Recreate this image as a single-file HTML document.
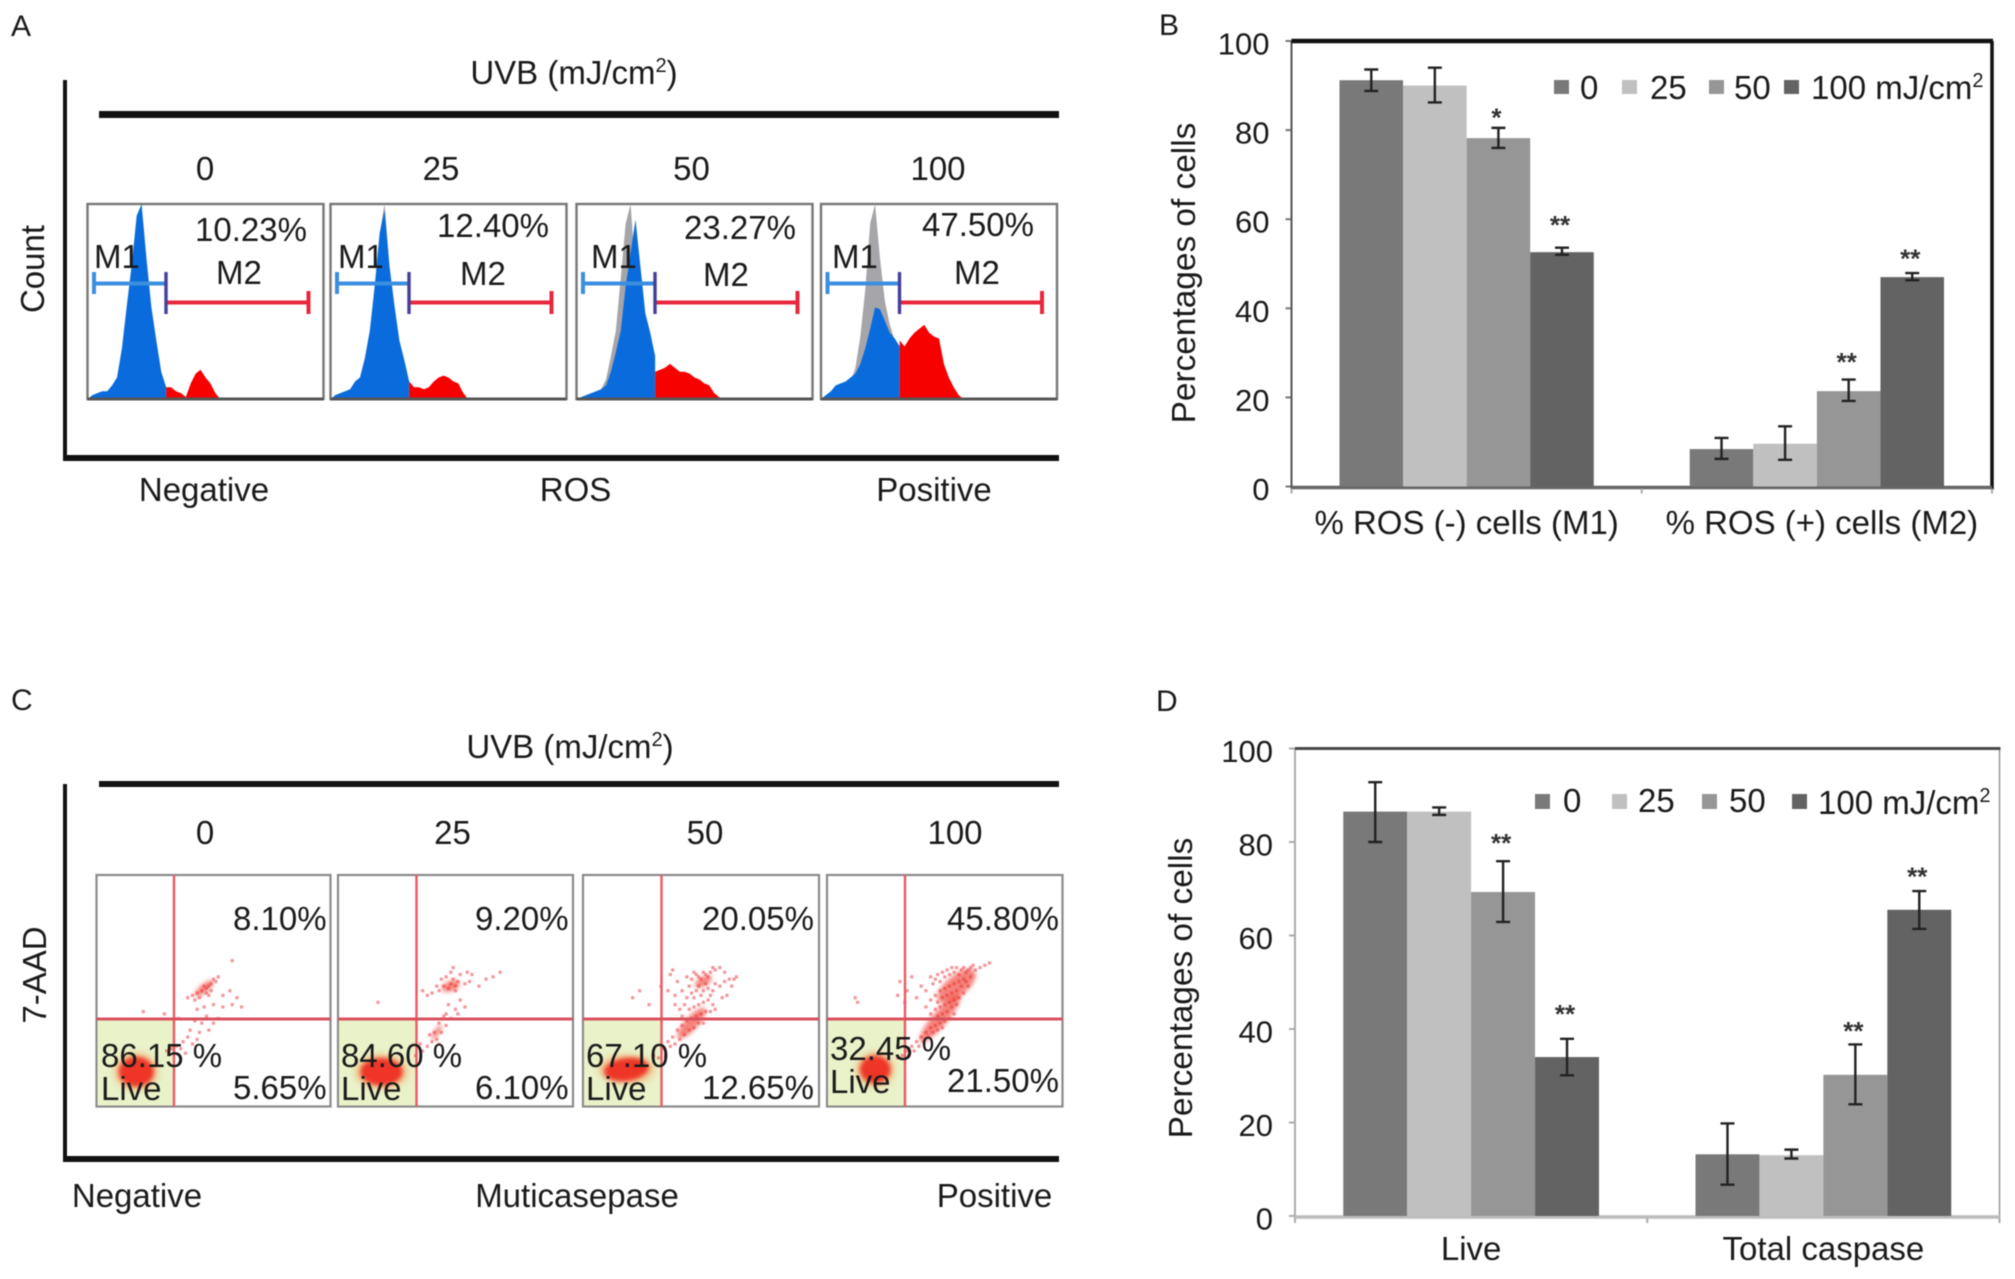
<!DOCTYPE html>
<html lang="en">
<head>
<meta charset="utf-8">
<title>UVB dose response: ROS and multicaspase flow cytometry</title>
<style>
html,body{margin:0;padding:0;background:#fff;width:2015px;height:1279px;overflow:hidden}
svg{display:block;filter:blur(0.6px)}
text{font-family:"Liberation Sans",Arial,sans-serif;font-size:33px;fill:#1a1a1a}
.mid{text-anchor:middle}
.lab{font-size:30px}
</style>
</head>
<body>
<svg id="figure" xmlns="http://www.w3.org/2000/svg" width="2015" height="1279" viewBox="0 0 2015 1279">
  <defs>
    <filter id="soft" x="-50%" y="-50%" width="200%" height="200%"><feGaussianBlur stdDeviation="2"/></filter>
    <filter id="softer" x="-50%" y="-50%" width="200%" height="200%"><feGaussianBlur stdDeviation="3.5"/></filter>
  </defs>
  <rect width="2015" height="1279" fill="#fff"/>

  <!-- Panel A -->
  <g id="panel-a">
    <text x="11" y="36" class="lab">A</text>
    <text x="574" y="84" class="mid">UVB (mJ/cm<tspan font-size="20" dy="-12">2</tspan><tspan dy="12">)</tspan></text>
    <rect x="99" y="111" width="960" height="7" fill="#111"/>
    <rect x="63" y="80" width="4" height="381" fill="#111"/>
    <rect x="63" y="455" width="996" height="6" fill="#111"/>
    <text transform="translate(44,269) rotate(-90)" class="mid">Count</text>
    <text x="205" y="180" class="mid">0</text>
    <text x="441" y="180" class="mid">25</text>
    <text x="691.5" y="180" class="mid">50</text>
    <text x="938" y="180" class="mid">100</text>
    <g id="hist-layer"></g>
    <text x="195" y="241">10.23%</text>
    <text x="437" y="237">12.40%</text>
    <text x="684" y="239">23.27%</text>
    <text x="922" y="236">47.50%</text>
    <text x="94" y="268">M1</text>
    <text x="216" y="284">M2</text>
    <text x="338" y="268">M1</text>
    <text x="460" y="285">M2</text>
    <text x="591" y="268">M1</text>
    <text x="703" y="286">M2</text>
    <text x="832" y="268">M1</text>
    <text x="954" y="284">M2</text>
    <text x="204" y="501" class="mid">Negative</text>
    <text x="575.5" y="501" class="mid">ROS</text>
    <text x="934" y="501" class="mid">Positive</text>
  </g>

  <!-- Panel C -->
  <g id="panel-c">
    <text x="11" y="710" class="lab">C</text>
    <text x="570" y="758" class="mid">UVB (mJ/cm<tspan font-size="20" dy="-12">2</tspan><tspan dy="12">)</tspan></text>
    <rect x="99" y="781" width="960" height="6" fill="#111"/>
    <rect x="63" y="784" width="4" height="377" fill="#111"/>
    <rect x="63" y="1156" width="996" height="6" fill="#111"/>
    <text transform="translate(46,975) rotate(-90)" class="mid">7-AAD</text>
    <text x="205" y="844" class="mid">0</text>
    <text x="452.5" y="844" class="mid">25</text>
    <text x="705" y="844" class="mid">50</text>
    <text x="955" y="844" class="mid">100</text>
    <g id="scatter-layer"></g>
    <text x="233" y="930">8.10%</text>
    <text x="233" y="1099">5.65%</text>
    <text x="101" y="1067">86.15 %</text>
    <text x="101" y="1100">Live</text>
    <text x="475" y="930">9.20%</text>
    <text x="475" y="1099">6.10%</text>
    <text x="341" y="1067">84.60 %</text>
    <text x="341" y="1100">Live</text>
    <text x="702" y="930">20.05%</text>
    <text x="702" y="1099">12.65%</text>
    <text x="586" y="1067">67.10 %</text>
    <text x="586" y="1100">Live</text>
    <text x="947" y="930">45.80%</text>
    <text x="947" y="1092">21.50%</text>
    <text x="830" y="1060">32.45 %</text>
    <text x="830" y="1093">Live</text>
    <text x="137" y="1207" class="mid">Negative</text>
    <text x="577" y="1207" class="mid">Muticasepase</text>
    <text x="994.5" y="1207" class="mid">Positive</text>
  </g>

  <!-- Panel B -->
  <g id="panel-b">
    <text x="1159" y="35" class="lab">B</text>
    <text transform="translate(1195,273) rotate(-90)" class="mid" style="font-size:33.4px">Percentages of cells</text>
    <g id="chart-b"></g>
    <g>
      <g><rect x="1554" y="80" width="15" height="14" fill="#797979"/><text x="1580" y="99">0</text></g>
      <g><rect x="1622" y="80" width="15" height="14" fill="#c0c0c0"/><text x="1650" y="99">25</text></g>
      <g><rect x="1709" y="80" width="15" height="14" fill="#969696"/><text x="1734" y="99">50</text></g>
      <g><rect x="1784" y="80" width="15" height="14" fill="#636363"/><text x="1811" y="99">100 mJ/cm<tspan font-size="20" dy="-12">2</tspan></text></g>
    </g>
  </g>

  <!-- Panel D -->
  <g id="panel-d">
    <text x="1156" y="711" class="lab">D</text>
    <text transform="translate(1192,988) rotate(-90)" class="mid" style="font-size:33.4px">Percentages of cells</text>
    <g id="chart-d"></g>
    <g>
      <g><rect x="1535" y="794" width="15" height="15" fill="#797979"/><text x="1563" y="812">0</text></g>
      <g><rect x="1612" y="794" width="15" height="15" fill="#c0c0c0"/><text x="1638" y="812">25</text></g>
      <g><rect x="1702" y="794" width="15" height="15" fill="#969696"/><text x="1729" y="812">50</text></g>
      <g><rect x="1792" y="794" width="15" height="15" fill="#636363"/><text x="1818" y="814">100 mJ/cm<tspan font-size="20" dy="-12">2</tspan></text></g>
    </g>
  </g>
</svg>

<script>
/* ---------- Panel B data ---------- */
const yTicks = [0, 20, 40, 60, 80, 100];
const bCategories = ['% ROS (-) cells (M1)', '% ROS (+) cells (M2)'];
const bM1Values = [91.2, 90, 78.2, 52.6];
const bM1ErrUp = [2.4, 4, 2.3, 1];
const bM1ErrDown = [2.4, 3.8, 2.2, 0.6];
const bM1Stars = ['', '', '*', '**'];
const bM1StarGap = [0, 0, 3, 5.8];
const bM2Values = [8.4, 9.6, 21.4, 47];
const bM2ErrUp = [2.5, 3.9, 2.6, 0.9];
const bM2ErrDown = [2.2, 3.6, 2.2, 0.7];
const bM2Stars = ['', '', '**', '**'];
const bM2StarGap = [0, 0, 4.6, 3.9];

/* ---------- Panel D data ---------- */
const dCategories = ['Live', 'Total caspase'];
const dLiveValues = [86.5, 86.5, 69.3, 34];
const dLiveErrUp = [6.3, 0.9, 6.6, 3.9];
const dLiveErrDown = [6.5, 0.7, 6.4, 3.9];
const dLiveStars = ['', '', '**', '**'];
const dLiveStarGap = [0, 0, 4.5, 6];
const dCaspValues = [13.2, 13, 30.2, 65.5];
const dCaspErrUp = [6.6, 1.2, 6.5, 4];
const dCaspErrDown = [6.5, 0.7, 6.3, 4.1];
const dCaspStars = ['', '', '**', '**'];
const dCaspStarGap = [0, 0, 3.5, 3.8];

const barColors = ['#797979', '#c0c0c0', '#969696', '#636363'];

/* ---------- Panel A histogram counts (percent of panel height, per bin of 48) ---------- */
const histBlue0 = [0,2,3,4,4,7,11,26,48,69,94,100,72,47,30,14,6];
const histRed0 = [6,6,4,3,1,8,13,15,11,8,3,0];
const histGray25 = [0,2,3,4,5,9,11,21,35,58,85,100,68,48,30,20,9];
const histBlue25 = [0,2,3,4,5,9,11,21,35,58,85,97,68,48,30,20,9];
const histRed25 = [9,6,6,5,6,9,11,12,11,9,8,3,0];
const histGray50 = [0,1,2,3,3,5,10,22,35,62,90,100,65,45,30,20,10];
const histBlue50 = [0,1,2,3,4,5,7,14,24,35,58,75,92,68,44,34,22];
const histRed50 = [14,15,16,18,16,14,14,13,11,10,8,7,3,1,0];
const histGray100 = [0,1,2,4,6,7,9,16,32,56,90,100,72,50,38,30,27];
const histBlue100 = [0,2,4,7,8,9,11,13,18,26,36,47,46,40,34,31,27];
const histRed100 = [30,27,31,34,36,38,34,32,31,18,11,6,2,0];
const histDoses = ['0', '25', '50', '100'];

/* ---------- Panel C scatter events (percent of each logarithmic axis) ---------- */
const scatter0 = [[41,48],[43,49],[45,50],[47,51],[48,52],[49,53],[50,55],[49,50],[47,49],[44,47],[51,54],[52,56],[46,52],[48,48],[42,46],[39,47],[54,48],[57,50],[60,47],[62,43],[58,44],[54,43],[50,44],[46,43],[43,42],[47,39],[52,38],[50,36],[45,36],[42,37],[40,33],[44,32],[48,33],[43,29],[41,27],[39,30],[37,28],[36,25],[38,23],[34,26],[32,25],[30,24],[58,63],[29,40],[20,41],[35,38]];
const scatter25 = [[43,50],[45,52],[47,51],[48,53],[49,55],[50,52],[51,54],[46,56],[44,55],[52,57],[55,58],[57,57],[54,53],[50,50],[42,52],[40,49],[38,48],[36,50],[48,58],[49,60],[56,54],[60,52],[63,55],[66,56],[69,58],[17,45],[52,46],[50,42],[54,43],[47,44],[45,39],[43,36],[46,35],[44,32],[41,32],[42,29],[40,28],[38,26],[36,24],[33,22],[35,27],[39,31],[43,27],[48,38],[51,40],[46,40]];
const scatter50 = [[37,57],[38,59],[40,54],[42,50],[44,56],[45,52],[46,55],[47,58],[48,57],[49,56],[50,55],[51,58],[52,57],[53,56],[54,58],[55,60],[56,59],[58,60],[60,58],[62,55],[64,55],[65,56],[63,52],[60,54],[58,52],[56,53],[55,50],[53,51],[52,53],[51,50],[50,48],[49,52],[48,50],[47,47],[46,49],[44,47],[43,44],[41,42],[39,44],[42,39],[45,42],[47,43],[49,44],[51,45],[53,46],[55,44],[56,42],[54,41],[52,41],[50,40],[48,39],[46,38],[44,37],[42,35],[40,33],[38,30],[36,28],[34,25],[37,26],[39,27],[41,29],[43,31],[45,33],[47,34],[49,36],[51,36],[35,22],[32,21],[30,22],[24,50],[21,47],[33,52],[36,50],[28,44],[39,48],[59,47],[61,48],[54,48]];
const scatter100 = [[40,52],[42,50],[44,56],[45,53],[46,55],[47,57],[48,54],[49,58],[50,56],[51,59],[52,57],[53,60],[54,58],[55,60],[56,57],[57,59],[58,60],[59,58],[60,59],[61,60],[62,61],[63,59],[65,60],[67,61],[69,62],[58,55],[56,54],[54,53],[52,52],[50,51],[48,50],[46,48],[44,46],[47,45],[49,47],[51,48],[53,49],[55,50],[57,52],[59,54],[61,56],[60,52],[58,49],[56,47],[54,46],[52,45],[50,44],[48,43],[46,42],[47,39],[49,40],[51,41],[53,43],[55,44],[50,37],[48,36],[46,35],[44,34],[42,32],[40,30],[38,28],[36,26],[37,24],[39,26],[41,28],[43,30],[45,32],[47,33],[49,34],[34,24],[32,22],[30,21],[33,45],[30,48],[34,50],[13,45],[12,47],[31,54],[36,56],[38,47],[42,43],[44,40],[52,38],[54,40]];
const scatterBlobs0 = [[17, 15, 7.5, 6.5, 0], [46, 51, 5, 1.8, -40]];
const scatterBlobs25 = [[18.5, 15, 9, 6, 0], [48, 52, 4, 2.2, -20], [42, 32, 3.5, 1.2, -55]];
const scatterBlobs50 = [[18.4, 16, 9.5, 5, -8], [46, 36, 8.5, 2.8, -48], [51, 54, 4, 2, -30]];
const scatterBlobs100 = [[20.5, 16, 6.5, 6, 0], [48, 38, 13, 3.2, -50], [55, 52, 10, 4.5, -40]];

/* ---------- helpers ---------- */
const NS = 'http://www.w3.org/2000/svg';
function mk(tag, attrs, parent) {
  const el = document.createElementNS(NS, tag);
  for (const k in attrs) el.setAttribute(k, attrs[k]);
  parent.appendChild(el);
  return el;
}

/* ---------- bar charts ---------- */
function drawBarChart(root, box, groups, categories, catBaseline, style) {
  const yScale = v => box.bottom - (v / 100) * (box.bottom - box.top);
  const groupW = (box.right - box.left) / groups.length;
  const barW = groupW * 0.1815;
  const barX = (g, s) => box.left + groupW * (g + 0.5) + (s - 2) * barW;

  yTicks.forEach(t => {
    const tick = mk('line', {x1: box.left - 6, x2: box.left, y1: yScale(t), y2: yScale(t), stroke: style.tick, 'stroke-width': 2}, root);
    
    
    const label = mk('text', {x: box.left - 22, y: yScale(t) + 13.5, 'text-anchor': 'end', style: 'font-size:31px'}, root);
    label.textContent = t;
    
    
  });

  const leftAxis = mk('line', {x1: box.left, x2: box.left, y1: box.top, y2: box.bottom + 3, stroke: style.left, 'stroke-width': 2}, root);
  
  
  const rightEdge = mk('line', {x1: box.right, x2: box.right, y1: box.top, y2: box.bottom + 3, stroke: style.right, 'stroke-width': style.rightW}, root);
  
  
  const topEdge = mk('line', {x1: box.left, x2: box.right + 1, y1: box.top, y2: box.top, stroke: style.top, 'stroke-width': style.topW}, root);
  
  
  const xAxis = mk('line', {x1: box.left, x2: box.right, y1: box.bottom + 1, y2: box.bottom + 1, stroke: style.bottom, 'stroke-width': 3.5}, root);
  
  

  for (let i = 0; i <= groups.length; i++) {
    const tx = box.left + i * groupW;
    const xt = mk('line', {x1: tx, x2: tx, y1: box.bottom + 2, y2: box.bottom + 7, stroke: '#aaa', 'stroke-width': 2}, root);
    
    
  }

  groups.forEach((group, g) => {
    group.values.forEach((v, s) => {
      const bar = mk('rect', {x: barX(g, s), y: yScale(v), width: barW, height: box.bottom - yScale(v), fill: barColors[s]}, root);
      
      
    });
    group.values.forEach((v, s) => {
      const cx = barX(g, s) + barW / 2;
      const hi = v + group.up[s];
      const lo = v - group.down[s];
      const err = mk('path', {
        d: 'M' + cx + ' ' + yScale(hi) + 'V' + yScale(lo) + 'M' + (cx - 7) + ' ' + yScale(hi) + 'H' + (cx + 7) + 'M' + (cx - 7) + ' ' + yScale(lo) + 'H' + (cx + 7),
        stroke: '#222', 'stroke-width': 2.4, fill: 'none'}, root);
      
      
      if (group.stars[s]) {
        const star = mk('text', {x: cx - 2, y: yScale(hi + group.gap[s]) + 12, 'text-anchor': 'middle', style: 'font-size:26px;font-weight:bold;fill:#333'}, root);
        star.textContent = group.stars[s];
        
        
      }
    });
    const cat = mk('text', {x: box.left + groupW * (g + 0.5) + style.catShift[g], y: catBaseline, 'text-anchor': 'middle'}, root);
    cat.textContent = categories[g];
    
    
  });
}

drawBarChart(document.getElementById('chart-b'),
  {left: 1291.5, right: 1992, top: 41, bottom: 486.5},
  [{values: bM1Values, up: bM1ErrUp, down: bM1ErrDown, stars: bM1Stars, gap: bM1StarGap},
   {values: bM2Values, up: bM2ErrUp, down: bM2ErrDown, stars: bM2Stars, gap: bM2StarGap}],
  bCategories, 534,
  {tick: '#777', left: '#555', right: '#111', rightW: 3.5, top: '#111', topW: 4.5, bottom: '#666', catShift: [0, 5]});

drawBarChart(document.getElementById('chart-d'),
  {left: 1295, right: 1999.5, top: 748.5, bottom: 1216},
  [{values: dLiveValues, up: dLiveErrUp, down: dLiveErrDown, stars: dLiveStars, gap: dLiveStarGap},
   {values: dCaspValues, up: dCaspErrUp, down: dCaspErrDown, stars: dCaspStars, gap: dCaspStarGap}],
  dCategories, 1260,
  {tick: '#aaa', left: '#aaa', right: '#999', rightW: 1.5, top: '#4a4a4a', topW: 3, bottom: '#bdbdbd', catShift: [0, 0]});

/* ---------- histograms ---------- */
const histLayer = document.getElementById('hist-layer');
const histPanels = [
  {left: 87.5, gray: [], blue: histBlue0, red: histRed0},
  {left: 330.5, gray: histGray25, blue: histBlue25, red: histRed25},
  {left: 576.5, gray: histGray50, blue: histBlue50, red: histRed50},
  {left: 821, gray: histGray100, blue: histBlue100, red: histRed100}
];
const histTop = 204, histBase = 399, histWidth = 236, histBins = 48, gateBin = 16;

function histX(panel, bin) { return panel.left + (bin / histBins) * histWidth; }
function histY(count) { return histBase - (count / 100) * (histBase - histTop); }
function histPoints(panel, counts, startBin) {
  const pts = [histX(panel, startBin) + ',' + histBase];
  counts.forEach((c, i) => pts.push(histX(panel, startBin + i) + ',' + histY(c)));
  pts.push(histX(panel, startBin + counts.length - 1) + ',' + histBase);
  return pts.join(' ');
}

histPanels.forEach((panel, p) => {
  const frame = mk('rect', {x: panel.left, y: histTop, width: histWidth, height: histBase - histTop, fill: '#fff', stroke: '#777', 'stroke-width': 2.4}, histLayer);
  
  
  if (panel.gray.length) {
    const gray = mk('polygon', {points: histPoints(panel, panel.gray, 0), fill: '#a6a6aa'}, histLayer);
    
    
  }
  const blue = mk('polygon', {points: histPoints(panel, panel.blue, 0), fill: '#0a6cdc'}, histLayer);
  
  
  const red = mk('polygon', {points: histPoints(panel, panel.red, gateBin), fill: '#f60000'}, histLayer);
  
  
  const base = mk('line', {x1: panel.left, x2: panel.left + histWidth, y1: histBase, y2: histBase, stroke: '#555', 'stroke-width': 3}, histLayer);
  
  

  const x0 = panel.left + 6.5, xg = panel.left + 78.5, x1 = panel.left + 221;
  const m1 = mk('path', {d: 'M' + x0 + ' 272V294M' + x0 + ' 283.5H' + xg, stroke: '#3b8fe0', 'stroke-width': 4, fill: 'none'}, histLayer);
  
  
  const m2 = mk('path', {d: 'M' + xg + ' 302.5H' + x1 + 'M' + x1 + ' 291V314', stroke: '#e8263c', 'stroke-width': 4, fill: 'none'}, histLayer);
  
  
  const divider = mk('line', {x1: xg, x2: xg, y1: 272, y2: 314, stroke: '#44409a', 'stroke-width': 3.4}, histLayer);
  
  
});

/* ---------- scatter plots ---------- */
const scatterLayer = document.getElementById('scatter-layer');
const scatterPanels = [
  {left: 96.5, width: 234, cross: 77.5, events: scatter0, blobs: scatterBlobs0},
  {left: 338, width: 235, cross: 78.5, events: scatter25, blobs: scatterBlobs25},
  {left: 583, width: 236, cross: 78.5, events: scatter50, blobs: scatterBlobs50},
  {left: 827, width: 235.5, cross: 78, events: scatter100, blobs: scatterBlobs100}
];
const scatterTop = 875, scatterBottom = 1106.5, crossY = 1019;

function scatterX(panel, v) { return panel.left + (v / 100) * panel.width; }
function scatterY(v) { return scatterBottom - (v / 100) * (scatterBottom - scatterTop); }

scatterPanels.forEach((panel, p) => {
  const frame = mk('rect', {x: panel.left, y: scatterTop, width: panel.width, height: scatterBottom - scatterTop, fill: '#fff', stroke: '#8a8a8a', 'stroke-width': 2.2}, scatterLayer);
  
  
  const live = mk('rect', {x: panel.left + 1, y: crossY, width: panel.cross - 1, height: scatterBottom - crossY - 1, fill: '#e9f2c9'}, scatterLayer);
  
  
  panel.events.forEach(e => {
    const dot = mk('rect', {x: scatterX(panel, e[0]) - 1.6, y: scatterY(e[1]) - 1.6, width: 3.2, height: 3.2, fill: '#e8323c', opacity: 0.5}, scatterLayer);
    
    
  });
  panel.blobs.forEach((b, i) => {
    const cx = scatterX(panel, b[0]), cy = scatterY(b[1]);
    const rx = b[2] / 100 * panel.width, ry = b[3] / 100 * (scatterBottom - scatterTop);
    if (i === 0) {
      const halo = mk('ellipse', {cx: cx, cy: cy, rx: rx * 1.25, ry: ry * 1.25, fill: '#f5a060', opacity: 0.6, filter: 'url(#softer)'}, scatterLayer);
      
      
    }
    const blob = mk('ellipse', {cx: cx, cy: cy, rx: rx, ry: ry, fill: '#ee2f22', opacity: i === 0 ? 0.95 : 0.6, filter: 'url(#soft)', transform: 'rotate(' + b[4] + ' ' + cx + ' ' + cy + ')'}, scatterLayer);
    
    
  });
  const vx = panel.left + panel.cross;
  const vLine = mk('line', {x1: vx, x2: vx, y1: scatterTop, y2: scatterBottom, stroke: '#ec5a62', 'stroke-width': 2.4}, scatterLayer);
  
  
  const hLine = mk('line', {x1: panel.left, x2: panel.left + panel.width, y1: crossY, y2: crossY, stroke: '#d9505c', 'stroke-width': 3}, scatterLayer);
  
  
});
</script>
</body>
</html>
